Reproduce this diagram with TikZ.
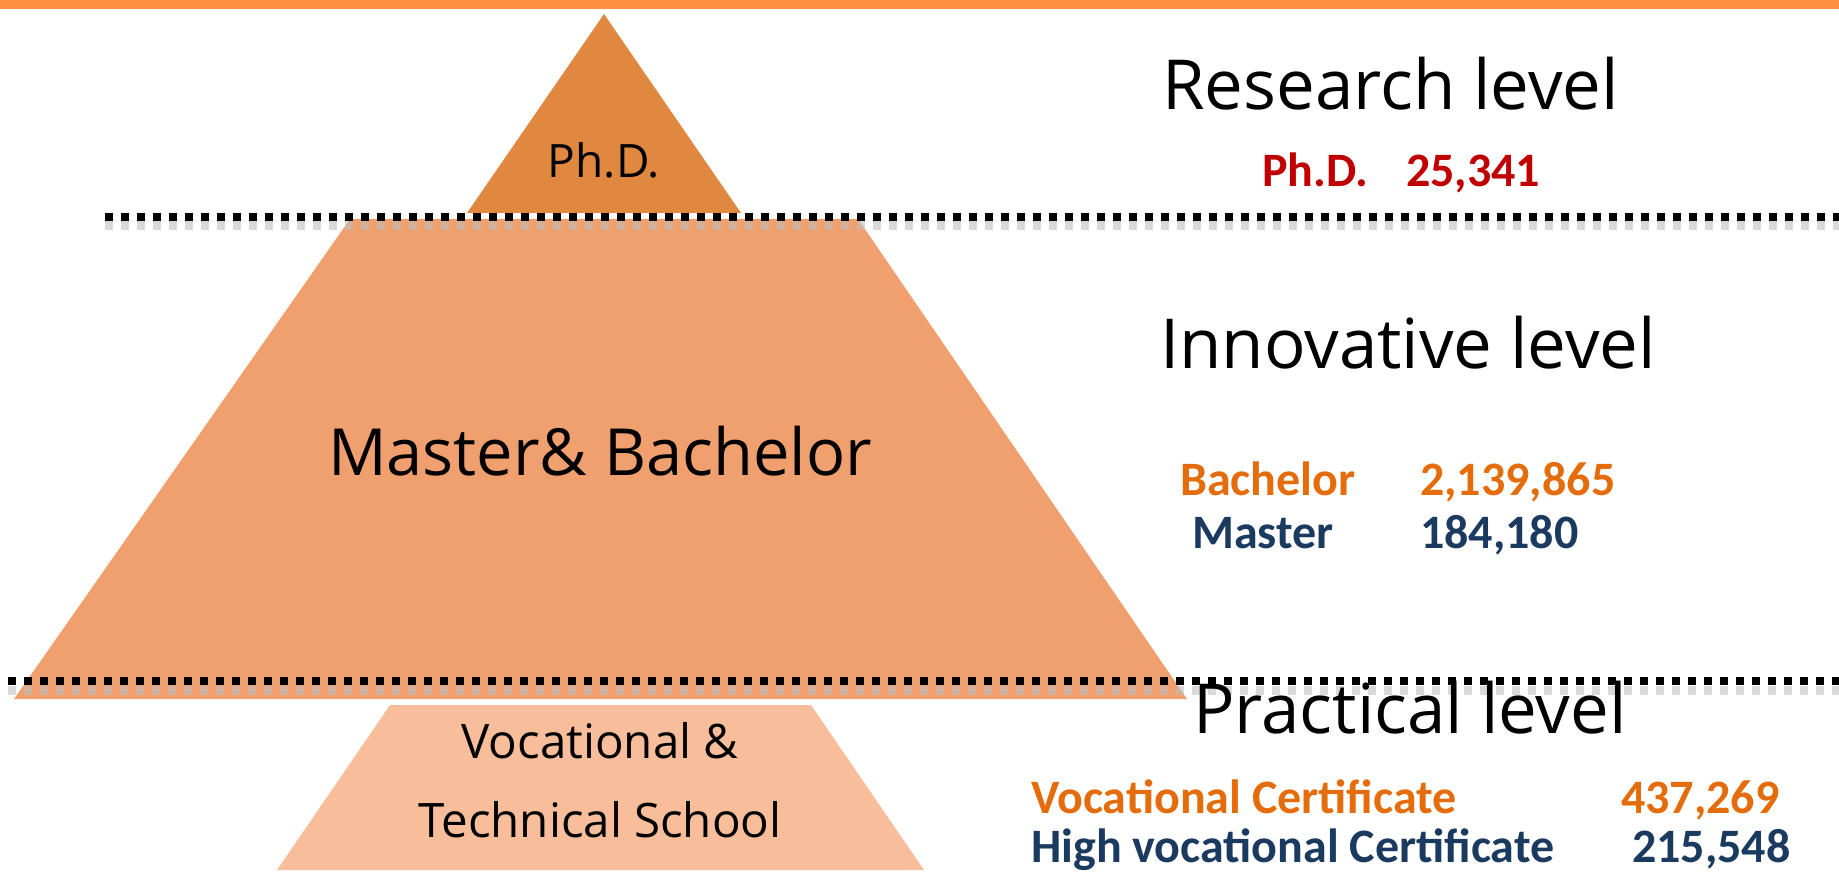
\documentclass[tikz,border=0pt]{standalone}
\usepackage{fontspec}
\setmainfont{Open Sans}
\newfontfamily\calfont{Carlito}

\definecolor{barorange}{HTML}{FF8F40}
\definecolor{phdfill}{HTML}{E0883F}
\definecolor{mbfill}{HTML}{F0A06E}
\definecolor{vtfill}{HTML}{F8BE9C}
\definecolor{orangetxt}{HTML}{E46C0A}
\definecolor{navytxt}{HTML}{1B3A60}
\definecolor{redtxt}{HTML}{C00000}

\tikzset{
  dotline/.style={line width=7.5pt, dash pattern=on 7.5pt off 8.5pt},
  dotshade/.style={line width=9pt, dash pattern=on 7.5pt off 8.5pt, black!25, opacity=0.6},
  leveltxt/.style={anchor=base west, inner sep=0pt, font=\fontsize{69}{82}\selectfont},
  shapetxt/.style={anchor=base, inner sep=0pt},
  numtxt/.style={anchor=base west, inner sep=0pt, font=\calfont\bfseries\fontsize{48}{58}\selectfont},
}

\begin{document}
\begin{tikzpicture}[x=1pt, y=-1pt, line cap=butt, line join=miter]

  %% ════ top bar ════
  \fill[barorange] (0,0) rectangle (1839,9);

  %% ════ pyramid ════
  \fill[phdfill] (604,14) -- (741,213) -- (467,213) -- cycle;
  \fill[mbfill] (350,219) -- (858,219) -- (1187,699) -- (14,699) -- cycle;
  \fill[vtfill] (390,705) -- (811,705) -- (924,870) -- (277,870) -- cycle;

  %% ════ dotted separators (with soft shadow) ════
  \draw[dotshade] (105,226) -- (1839,226);
  \draw[dotline] (105,217) -- (1839,217);
  \draw[dotshade] (-8,690) -- (1839,690);
  \draw[dotline] (-8,681) -- (1839,681);

  %% ════ labels in the pyramid ════
  \node[shapetxt, font=\fontsize{46}{54}\selectfont] (phd) at (604,178) {Ph.D.};
  \node[shapetxt, font=\fontsize{65}{78}\selectfont] (mb) at (600,475) {Master\& Bachelor};
  \node[shapetxt, font=\fontsize{47.5}{57}\selectfont] (voc) at (600,758) {Vocational \&};
  \node[shapetxt, font=\fontsize{47.5}{57}\selectfont] (tech) at (600,837) {Technical School};

  %% ════ levels ════
  \node[leveltxt] (research) at (1162,110) {Research level};
  \node[leveltxt] (innov) at (1160,369) {Innovative level};
  \node[leveltxt] (practical) at (1193,733) {Practical level};

  %% ════ numbers ════
  \node[numtxt, text=redtxt] (phdname) at (1262,187) {Ph.D.};
  \node[numtxt, text=redtxt] (phdnum) at (1406,187) {25,341};
  \node[numtxt, text=orangetxt] (bachname) at (1180,495) {Bachelor};
  \node[numtxt, text=orangetxt] (bachnum) at (1420,495) {2,139,865};
  \node[numtxt, text=navytxt] (mastname) at (1192,548) {Master};
  \node[numtxt, text=navytxt] (mastnum) at (1420,548) {184,180};
  \node[numtxt, text=orangetxt] (vcname) at (1031,813) {Vocational Certificate};
  \node[numtxt, text=orangetxt] (vcnum) at (1621,813) {437,269};
  \node[numtxt, text=navytxt] (hvcname) at (1031,862) {High vocational Certificate};
  \node[numtxt, text=navytxt] (hvcnum) at (1632,862) {215,548};

  \pgfresetboundingbox
  \path[use as bounding box] (0,0) rectangle (1839,874);
\end{tikzpicture}
\end{document}
